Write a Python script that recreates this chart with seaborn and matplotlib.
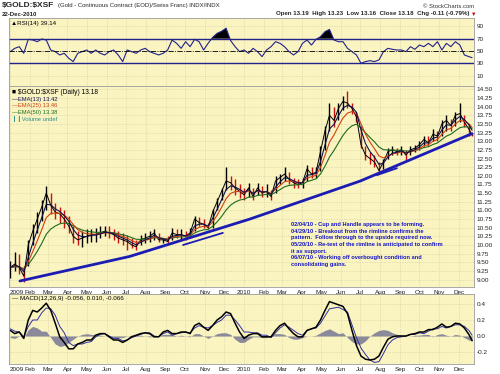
import numpy as np
import pandas as pd
import matplotlib
matplotlib.use('Agg')
import matplotlib.pyplot as plt
import matplotlib.dates as mdates
import seaborn as sns

# ---------------- data (weekly readings) ----------------
week_dates = list(pd.date_range('2009-01-02', periods=103, freq='7D')) + [pd.Timestamp('2010-12-22')]

close = [9.35, 9.45, 9.35, 9.10, 10.00, 10.40, 10.75, 11.10, 11.50, 11.15,
         10.95, 10.90, 10.75, 10.55, 10.25, 10.15, 10.20, 10.25, 10.30, 10.30,
         10.35, 10.40, 10.35, 10.30, 10.20, 10.15, 10.10, 10.00, 9.95, 10.15,
         10.20, 10.25, 10.35, 10.15, 10.15, 10.10, 10.35, 10.30, 10.30, 10.25,
         10.35, 10.75, 10.65, 10.60, 10.50, 10.95, 11.25, 11.55, 11.85, 11.80,
         11.65, 11.55, 11.45, 11.65, 11.40, 11.65, 11.50, 11.55, 11.40, 11.85,
         11.95, 12.05, 11.90, 11.80, 11.75, 11.80, 12.20, 12.05, 12.10, 12.70,
         13.30, 13.75, 13.60, 13.95, 14.15, 14.10, 13.95, 13.70, 12.90, 12.60,
         12.50, 12.40, 12.15, 12.40, 12.70, 12.75, 12.70, 12.75, 12.60, 12.75,
         12.80, 12.90, 13.05, 12.95, 13.20, 13.15, 13.50, 13.60, 13.45, 13.75,
         13.80, 13.55, 13.35, 13.18]
high = [9.55, 9.80, 9.75, 9.40, 10.15, 10.60, 10.95, 11.30, 11.70, 11.50,
        11.20, 11.10, 11.00, 10.85, 10.55, 10.40, 10.40, 10.45, 10.45, 10.50,
        10.55, 10.55, 10.55, 10.45, 10.40, 10.35, 10.30, 10.20, 10.15, 10.30,
        10.35, 10.40, 10.45, 10.35, 10.20, 10.25, 10.50, 10.45, 10.45, 10.40,
        10.50, 10.85, 10.80, 10.75, 10.65, 11.05, 11.35, 11.65, 12.25, 12.00,
        11.90, 11.75, 11.65, 11.80, 11.65, 11.80, 11.70, 11.75, 11.60, 12.00,
        12.05, 12.25, 12.10, 11.95, 11.90, 11.95, 12.30, 12.25, 12.25, 12.85,
        13.45, 14.10, 14.00, 14.10, 14.30, 14.45, 14.10, 13.85, 13.45, 12.85,
        12.70, 12.60, 12.40, 12.50, 12.80, 12.85, 12.80, 12.85, 12.75, 12.85,
        12.90, 13.00, 13.15, 13.15, 13.35, 13.30, 13.60, 13.75, 13.65, 13.85,
        14.10, 13.75, 13.50, 13.23]
low = [9.05, 9.25, 9.15, 8.93, 9.40, 10.00, 10.35, 10.70, 11.00, 10.90,
       10.75, 10.65, 10.50, 10.35, 10.05, 10.00, 9.95, 10.05, 10.10, 10.10,
       10.20, 10.25, 10.20, 10.15, 10.05, 10.00, 9.85, 9.90, 9.85, 10.00,
       10.05, 10.10, 10.15, 10.10, 10.05, 10.05, 10.15, 10.20, 10.15, 10.15,
       10.20, 10.40, 10.55, 10.50, 10.45, 10.50, 11.00, 11.30, 11.60, 11.60,
       11.45, 11.35, 11.30, 11.40, 11.30, 11.45, 11.40, 11.40, 11.30, 11.50,
       11.75, 11.85, 11.75, 11.65, 11.65, 11.65, 11.85, 11.95, 11.95, 12.15,
       12.75, 13.30, 13.40, 13.60, 13.90, 13.95, 13.80, 13.55, 12.80, 12.45,
       12.35, 12.25, 12.05, 12.20, 12.50, 12.60, 12.60, 12.60, 12.45, 12.60,
       12.70, 12.75, 12.85, 12.85, 13.00, 13.00, 13.15, 13.30, 13.30, 13.45,
       13.55, 13.40, 13.15, 13.16]

rsi = [48.9, 54.3, 57.0, 46.2, 69.0, 67.8, 65.1, 69.5, 67.8, 51.6,
       48.9, 43.5, 46.2, 38.1, 32.7, 46.2, 48.9, 51.6, 46.2, 51.6,
       46.2, 43.5, 48.9, 51.6, 43.5, 32.7, 51.6, 48.9, 46.2, 51.6,
       54.3, 48.9, 46.2, 43.5, 46.2, 51.6, 67.8, 62.4, 54.3, 65.1,
       57.0, 69.0, 65.1, 51.6, 62.4, 72.0, 78.6, 82.0, 87.0, 67.0,
       57.0, 48.9, 51.6, 46.2, 54.3, 48.9, 40.8, 51.6, 57.0, 65.1,
       62.4, 57.0, 48.9, 43.5, 48.9, 62.4, 67.8, 59.7, 69.0, 73.2,
       81.4, 85.0, 67.8, 65.1, 65.1, 54.3, 48.9, 43.5, 30.0, 32.7,
       34.3, 32.7, 35.4, 48.9, 54.3, 52.7, 51.6, 51.6, 48.9, 57.0,
       52.7, 59.7, 57.0, 62.4, 57.0, 65.1, 51.6, 62.4, 57.0, 65.1,
       59.7, 43.5, 40.8, 39.14]

macd = [0.07, 0.03, 0.05, -0.03, 0.20, 0.32, 0.30, 0.35, 0.41, 0.32,
        0.16, -0.01, -0.08, -0.16, -0.16, -0.10, -0.08, -0.05, -0.05, 0.01,
        0.03, 0.03, -0.01, -0.05, -0.05, -0.08, -0.05, -0.01, 0.01, 0.03,
        0.04, 0.03, -0.01, -0.01, 0.05, 0.07, 0.03, 0.03, 0.05, 0.05,
        0.03, 0.13, 0.16, 0.11, 0.07, 0.13, 0.20, 0.24, 0.30, 0.28,
        0.16, 0.05, -0.03, 0.01, 0.03, 0.03, -0.01, -0.01, -0.01, 0.07,
        0.13, 0.16, 0.09, 0.03, -0.01, -0.01, 0.07, 0.09, 0.11, 0.20,
        0.32, 0.43, 0.41, 0.39, 0.37, 0.28, 0.07, -0.12, -0.25, -0.29,
        -0.30, -0.29, -0.25, -0.14, -0.04, -0.01, 0.00, 0.00, 0.00, 0.02,
        0.03, 0.05, 0.05, 0.08, 0.08, 0.11, 0.15, 0.11, 0.12, 0.16,
        0.15, 0.10, 0.02, -0.056]
macd_hist = [-0.02, -0.03, 0.00, -0.02, 0.08, 0.12, 0.10, 0.06, 0.06, -0.02,
             -0.10, -0.13, -0.12, -0.08, -0.04, 0.00, 0.02, 0.03, 0.02, 0.02,
             0.01, 0.00, -0.01, -0.02, -0.02, -0.02, 0.00, 0.01, 0.01, 0.01,
             0.00, -0.01, -0.01, 0.00, 0.02, 0.02, 0.02, 0.00, 0.01, 0.00,
             -0.01, 0.03, 0.03, 0.00, -0.03, 0.00, 0.03, 0.04, 0.04, 0.02,
             -0.04, -0.08, -0.08, -0.04, -0.01, -0.01, -0.02, -0.02, 0.01, 0.03,
             0.03, 0.02, -0.02, -0.04, -0.04, -0.02, 0.00, 0.00, 0.01, 0.04,
             0.07, 0.09, 0.06, 0.03, 0.04, -0.02, -0.07, -0.10, -0.10, -0.06,
             0.00, 0.04, 0.07, 0.08, 0.07, 0.04, 0.02, 0.01, 0.00, 0.00,
             0.01, 0.01, 0.02, 0.02, -0.01, 0.02, 0.03, 0.01, 0.00, 0.02,
             0.01, -0.02, -0.05, -0.066]

trend_dates = ['2009-01-17', '2009-07-07', '2010-01-10', '2010-07-01', '2010-12-22']
trend_values = [8.96, 9.67, 10.75, 11.85, 13.22]
rim_2009_dates = ['2009-09-28', '2009-11-29']
rim_2009_values = [10.00, 10.35]
rim_2010_dates = ['2010-07-27', '2010-08-27']
rim_2010_values = [12.02, 12.22]

price_ticks = [9.00, 9.25, 9.50, 9.75, 10.00, 10.25, 10.50, 10.75, 11.00, 11.25, 11.50,
               11.75, 12.00, 12.25, 12.50, 12.75, 13.00, 13.25, 13.50, 13.75, 14.00,
               14.25, 14.50]
rsi_ticks = [10, 30, 50, 70, 90]
macd_ticks = [-0.2, 0.0, 0.2, 0.4]
month_labels = ['2009', 'Feb', 'Mar', 'Apr', 'May', 'Jun', 'Jul', 'Aug', 'Sep', 'Oct', 'Nov', 'Dec',
                '2010', 'Feb', 'Mar', 'Apr', 'May', 'Jun', 'Jul', 'Aug', 'Sep', 'Oct', 'Nov', 'Dec']
notes = ["02/04/10 - Cup and Handle appears to be forming.",
         "04/29/10 - Breakout from the rimline confirms the",
         "pattern.  Follow through to the upside required now.",
         "05/20/10 - Re-test of the rimline is anticipated to confirm",
         "it as support.",
         "06/07/10 - Working off overbought condition and",
         "consolidating gains."]

# ---------------- derived ----------------
df = pd.DataFrame({'date': week_dates, 'close': close, 'high': high, 'low': low,
                   'rsi': rsi, 'macd': macd, 'hist': macd_hist})
df['ema13'] = df['close'].ewm(alpha=0.54, adjust=False).mean()
df['ema25'] = df['close'].ewm(alpha=0.33, adjust=False).mean()
df['ema50'] = df['close'].ewm(alpha=0.18, adjust=False).mean()
df['signal'] = df['macd'] - df['hist']
up = df['close'].diff().fillna(0) >= 0

# ---------------- figure ----------------
sns.set_style('white')
plt.rcParams['font.family'] = ['Liberation Sans', 'DejaVu Sans']
YEL = '#faf4c0'
GRID = '#c9c3a0'
fig = plt.figure(figsize=(5.0, 3.74), dpi=100)
fig.patch.set_facecolor('white')
L, R = 0.018, 0.948
ax_r = fig.add_axes([L, 0.770, R - L, 0.952 - 0.770])
ax_p = fig.add_axes([L, 0.2326, R - L, 0.770 - 0.2326])
ax_m = fig.add_axes([L, 0.0267, R - L, 0.2139 - 0.0267])

month_starts = pd.date_range('2009-01-01', '2010-12-01', freq='MS')
xlim = (pd.Timestamp('2008-12-31'), pd.Timestamp('2010-12-25'))

for ax in (ax_r, ax_p, ax_m):
    ax.set_facecolor(YEL)
    ax.set_xlim(xlim)
    ax.set_xticks(month_starts)
    ax.yaxis.tick_right()
    ax.grid(True, color=GRID, lw=0.45, ls=':')
    ax.tick_params(length=0, labelsize=4.6, pad=2, colors='#222222')
    for s in ax.spines.values():
        s.set_color('#9a9a9a')
        s.set_linewidth(0.6)

# RSI panel
ax_r.set_ylim(-7, 103.7)
ax_r.fill_between(df['date'], 70, df['rsi'], where=df['rsi'] >= 70, interpolate=True,
                  color='black', lw=0)
sns.lineplot(data=df, x='date', y='rsi', ax=ax_r, color='#22228a', lw=0.8, legend=False)
ax_r.axhline(70, color='#22228a', lw=1.0)
ax_r.axhline(30, color='#22228a', lw=1.0)
ax_r.axhline(50, color='black', lw=0.6, ls='-.')
ax_r.set_yticks(rsi_ticks)
ax_r.set_yticklabels([str(v) for v in rsi_ticks])
ax_r.set_xticklabels([])
ax_r.set_xlabel(''); ax_r.set_ylabel('')
ax_r.text(0.004, 0.96, '\u25b2RSI(14) 39.14', transform=ax_r.transAxes, fontsize=4.5,
          va='top', ha='left', color='black')

# Price panel
ax_p.set_ylim(8.786, 14.595)
ax_p.vlines(df['date'][up], df['low'][up], df['high'][up], color='black', lw=1.0)
ax_p.vlines(df['date'][~up], df['low'][~up], df['high'][~up], color='#cc1010', lw=1.0)
sns.lineplot(data=df, x='date', y='close', ax=ax_p, color='black', lw=0.7, legend=False)
sns.lineplot(data=df, x='date', y='ema50', ax=ax_p, color='#1e6b1e', lw=0.8, legend=False)
sns.lineplot(data=df, x='date', y='ema25', ax=ax_p, color='#d04010', lw=0.8, legend=False)
sns.lineplot(data=df, x='date', y='ema13', ax=ax_p, color='#101050', lw=0.8, legend=False)
ax_p.plot(pd.to_datetime(trend_dates), trend_values, color='#1c1cb4', lw=2.0, solid_capstyle='round')
ax_p.plot(pd.to_datetime(rim_2009_dates), rim_2009_values, color='#1c1cb4', lw=1.3)
ax_p.plot(pd.to_datetime(rim_2010_dates), rim_2010_values, color='#1c1cb4', lw=1.3)
ax_p.set_yticks(price_ticks)
ax_p.set_yticklabels([f'{v:.2f}' for v in price_ticks])
ax_p.set_xticklabels(month_labels)
ax_p.set_xlabel(''); ax_p.set_ylabel('')
ax_p.get_xticklabels()[0].set_ha('left')
ax_p.text(0.006, 0.985, '\u25a0 \\$GOLD:\\$XSF (Daily) 13.18', transform=ax_p.transAxes,
          fontsize=4.8, va='top', ha='left', color='black')
leg_items = [('\u2014EMA(13) 13.42', '#101050'), ('\u2014EMA(25) 13.46', '#d04010'),
             ('\u2014EMA(50) 13.38', '#1e6b1e'), ('\u2759\u2759Volume undef', '#2f8f8f')]
for k, (txt, col) in enumerate(leg_items):
    ax_p.text(0.006, 0.945 - k * 0.031, txt, transform=ax_p.transAxes, fontsize=4.2,
              va='top', ha='left', color=col)

fig.text(291 / 500, 1 - 222 / 374, '\n'.join(notes), fontsize=4.1, fontweight='bold',
         color='#1515c8', va='top', ha='left', linespacing=1.42)

# MACD panel
ax_m.set_ylim(-0.35, 0.525)
ax_m.fill_between(df['date'], 0, df['hist'], color='#8a8a9a', lw=0)
sns.lineplot(data=df, x='date', y='signal', ax=ax_m, color='#3030a0', lw=0.7, legend=False)
sns.lineplot(data=df, x='date', y='macd', ax=ax_m, color='black', lw=1.1, legend=False)
ax_m.set_yticks(macd_ticks)
ax_m.set_yticklabels([f'{v:.1f}' for v in macd_ticks])
ax_m.set_xticklabels(month_labels)
ax_m.set_xlabel(''); ax_m.set_ylabel('')
ax_m.get_xticklabels()[0].set_ha('left')
ax_m.text(0.006, 0.97, '\u2014 MACD(12,26,9) -0.056, 0.010, -0.066', transform=ax_m.transAxes,
          fontsize=4.5, va='top', ha='left', color='black')

# header
fig.text(0.004, 1 - 6 / 374, '\\$GOLD:\\$XSF', fontsize=6.0, fontweight='bold', va='center', ha='left')
fig.text(0.116, 1 - 6 / 374, '(Gold - Continuous Contract (EOD)/Swiss Franc) INDX/INDX',
         fontsize=4.3, va='center', ha='left')
fig.text(0.948, 1 - 6 / 374, '\u00a9 StockCharts.com', fontsize=4.2, va='center', ha='right',
         color='#333333')
fig.text(0.004, 1 - 14 / 374, '22-Dec-2010', fontsize=4.4, fontweight='bold', va='center', ha='left')
fig.text(0.938, 1 - 14 / 374, 'Open 13.19  High 13.23  Low 13.16  Close 13.18  Chg -0.11 (-0.79%)',
         fontsize=4.4, fontweight='bold', va='center', ha='right')
fig.text(0.941, 1 - 14 / 374, '\u25bc', fontsize=4.0, color='#cc0000', va='center', ha='left')

fig.savefig('out.png', dpi=100, facecolor='white')
